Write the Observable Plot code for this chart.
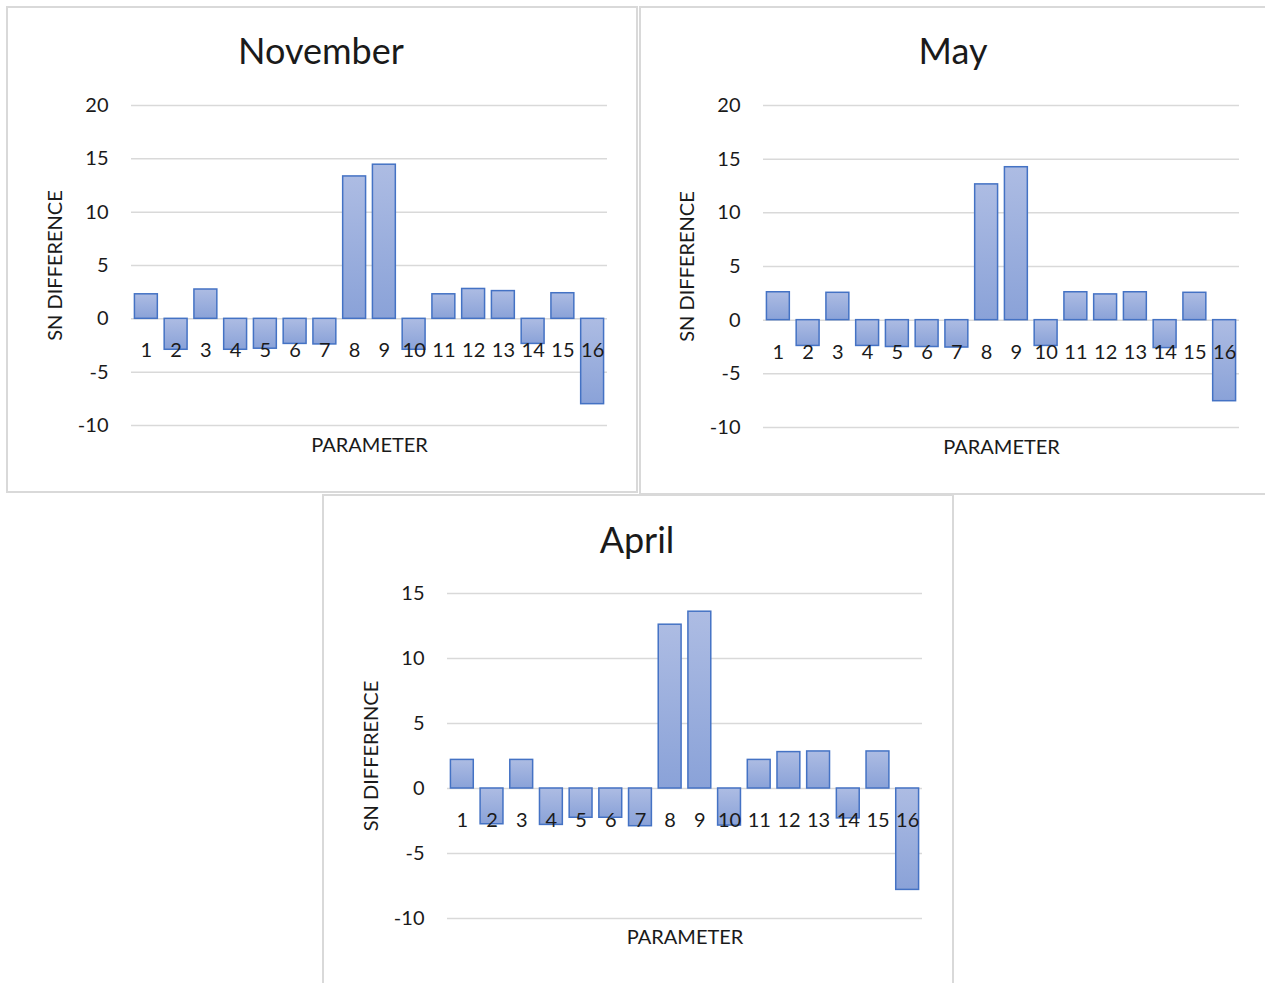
<!DOCTYPE html>
<html>
<head>
<meta charset="utf-8">
<script src="https://cdn.jsdelivr.net/npm/d3@7"></script>
<script src="https://cdn.jsdelivr.net/npm/@observablehq/plot@0.6"></script>
<style>
  body { margin: 0; background: #fff; }
  #page { position: relative; width: 1265px; height: 983px; overflow: hidden; background: #fff; font-family: Lato, sans-serif; }
  .frame { position: absolute; box-sizing: border-box; border: 2px solid #d9d9d9; }
  .title { position: absolute; transform: translate(-50%, -50%); font-size: 36px; color: #1a1a1a; white-space: nowrap; line-height: 1; }
  .chart { position: absolute; }
  #defs { position: absolute; width: 0; height: 0; }
</style>
</head>
<body>
<svg id="defs" aria-hidden="true">
  <defs>
    <linearGradient id="barFill" x1="0" y1="0" x2="0" y2="1">
      <stop offset="0" stop-color="#adbce3"></stop>
      <stop offset="1" stop-color="#8aa2d8"></stop>
    </linearGradient>
  </defs>
</svg>
<div id="page"></div>
<script>
// Parameters 1–16 on the horizontal axis
const parameters = ["1", "2", "3", "4", "5", "6", "7", "8", "9", "10", "11", "12", "13", "14", "15", "16"];

// SN difference per parameter, one series per month
const novemberValues = [2.3, -2.9, 2.75, -2.9, -2.8, -2.35, -2.4, 13.35, 14.45, -2.9, 2.3, 2.8, 2.6, -2.35, 2.4, -8.0];
const mayValues      = [2.6, -2.4, 2.55, -2.4, -2.5, -2.5, -2.55, 12.65, 14.25, -2.4, 2.6, 2.4, 2.6, -2.6, 2.55, -7.55];
const aprilValues    = [2.2, -2.75, 2.2, -2.8, -2.25, -2.25, -2.9, 12.6, 13.6, -2.85, 2.2, 2.8, 2.85, -2.3, 2.85, -7.8];

// Value-axis ticks
const wideTicks = [-10, -5, 0, 5, 10, 15, 20];
const narrowTicks = [-10, -5, 0, 5, 10, 15];

const yLabel = "SN DIFFERENCE";
const xLabel = "PARAMETER";

const page = document.getElementById("page");

function panel({title, values, ticks, frame, svg, margin, titlePos, xLabelGap}) {
  const rows = parameters.map((p, i) => ({parameter: p, value: values[i]}));

  const box = document.createElement("div");
  box.className = "frame";
  Object.assign(box.style, {left: frame[0] + "px", top: frame[1] + "px", width: frame[2] + "px", height: frame[3] + "px"});
  page.appendChild(box);

  const chart = Plot.plot({
    width: svg[2],
    height: svg[3],
    marginLeft: margin[0],
    marginRight: margin[1],
    marginTop: margin[2],
    marginBottom: margin[3],
    style: {fontFamily: "Lato, sans-serif", fontSize: "20px", color: "#1a1a1a", background: "transparent", overflow: "visible"},
    x: {type: "band", domain: parameters, paddingInner: 0.23, paddingOuter: 0.115, align: 0.5, round: false, axis: null},
    y: {domain: [ticks[0], ticks[ticks.length - 1]], ticks, tickSize: 0, tickPadding: 23, tickFormat: d => String(d), label: null},
    marks: [
      Plot.ruleY(ticks, {stroke: "#d9d9d9", strokeWidth: 1.5}),
      Plot.barY(rows, {x: "parameter", y: "value", fill: "url(#barFill)", stroke: "#4472c4", strokeWidth: 1.5}),
      Plot.text(rows, {x: "parameter", y: 0, text: "parameter", dy: 32, fontSize: 20, fill: "#1a1a1a"}),
      Plot.text([xLabel], {frameAnchor: "bottom", dy: xLabelGap, fontSize: 20, fill: "#1a1a1a"}),
      Plot.text([yLabel], {frameAnchor: "left", textAnchor: "middle", rotate: -90, dx: -76, fontSize: 20, fill: "#1a1a1a"})
    ]
  });
  chart.classList.add("chart");
  chart.style.left = svg[0] + "px";
  chart.style.top = svg[1] + "px";
  page.appendChild(chart);

  const t = document.createElement("div");
  t.className = "title";
  t.textContent = title;
  t.style.left = titlePos[0] + "px";
  t.style.top = titlePos[1] + "px";
  page.appendChild(t);
}

panel({
  title: "November", values: novemberValues, ticks: wideTicks,
  frame: [6, 6, 632, 487], svg: [6, 6, 631, 486], margin: [125, 30, 99, 67], titlePos: [321, 50], xLabelGap: 26
});
panel({
  title: "May", values: mayValues, ticks: wideTicks,
  frame: [639, 6, 640, 489], svg: [639, 6, 626, 488], margin: [124, 26, 99, 67], titlePos: [953, 50], xLabelGap: 26
});
panel({
  title: "April", values: aprilValues, ticks: narrowTicks,
  frame: [322, 494, 632, 500], svg: [322, 494, 631, 489], margin: [125, 31, 99, 65], titlePos: [637, 539], xLabelGap: 25
});
</script>
</body>
</html>
